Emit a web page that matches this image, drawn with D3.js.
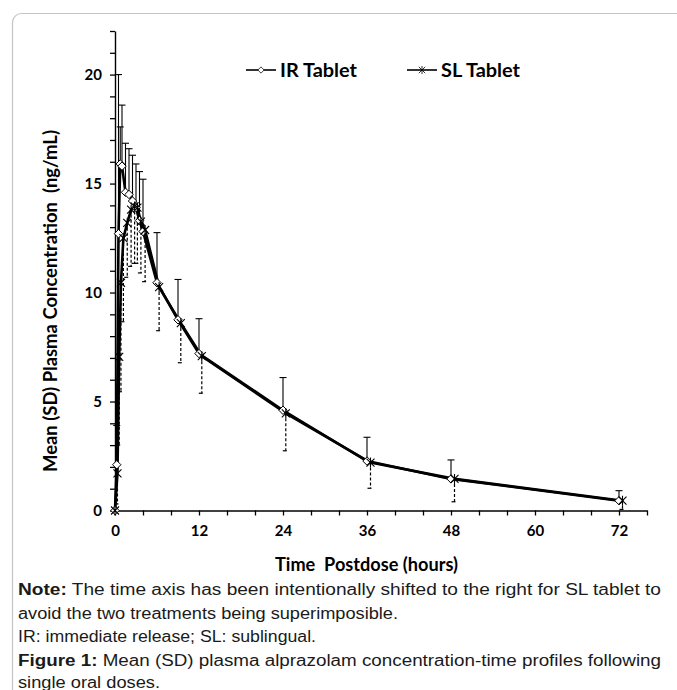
<!DOCTYPE html>
<html><head><meta charset="utf-8">
<script src="https://cdn.jsdelivr.net/npm/d3@7"></script>
<style>
html,body{margin:0;padding:0;background:#fff;}
svg{display:block;}
text{white-space:pre;}
</style></head>
<body>
<svg id="chart" width="677" height="690"></svg>
<script>
// ---- data ----
const irTime  = [0, 0.25, 0.5, 0.75, 1, 1.5, 2, 2.5, 3, 3.5, 4, 6, 9, 12, 24, 36, 48, 72];
const irMean  = [0, 2.1, 12.7, 15.9, 15.8, 14.6, 14.5, 14.2, 13.9, 13.3, 12.8, 10.45, 8.75, 7.2, 4.6, 2.27, 1.45, 0.45];
const irUpper = [0, 3.9, 20.0, 17.6, 18.6, 16.85, 16.6, 16.3, 15.9, 15.55, 15.2, 12.75, 10.6, 8.8, 6.1, 3.36, 2.32, 0.91];

const slTime  = [0, 0.35, 0.6, 0.85, 1.2, 1.75, 2.3, 2.8, 3.2, 3.7, 4.3, 6.3, 9.4, 12.4, 24.4, 36.5, 48.5, 72.5];
const slMean  = [0, 1.7, 7.05, 10.45, 12.5, 13.2, 13.8, 13.95, 13.9, 13.25, 12.87, 10.25, 8.6, 7.08, 4.46, 2.2, 1.45, 0.45];
const slLower = [0, 0.3, 3.0, 5.45, 8.66, 10.7, 11.2, 11.34, 11.34, 10.9, 10.5, 8.25, 6.78, 5.38, 2.74, 1.02, 0.4, 0.05];

const xTicks = [0, 12, 24, 36, 48, 60, 72];
const yTicks = [0, 5, 10, 15, 20];
const seriesNames = ["IR Tablet", "SL Tablet"];
const xTitle = "Time  Postdose (hours)";
const yTitle = "Mean (SD) Plasma Concentration  (ng/mL)";
const captionLines = [
  [["Note:", true], [" The time axis has been intentionally shifted to the right for SL tablet to", false]],
  [["avoid the two treatments being superimposible.", false]],
  [["IR: immediate release; SL: sublingual.", false]],
  [["Figure 1:", true], [" Mean (SD) plasma alprazolam concentration-time profiles following", false]],
  [["single oral doses.", false]]
];

// ---- layout ----
const svg = d3.select("#chart");
const x = d3.scaleLinear().domain([0, 76]).range([115, 647]);
const y = d3.scaleLinear().domain([0, 22]).range([510.5, 31]);

// frame
svg.append("rect").attr("x", 12.5).attr("y", 13.5).attr("width", 700).attr("height", 700)
  .attr("rx", 9).attr("fill", "none").attr("stroke", "#c4c4c4").attr("stroke-width", 1.2);

const chartFont = "Lato, 'Open Sans', sans-serif";

// axes
const yAxis = d3.axisLeft(y).tickValues(d3.range(0, 23)).tickSize(5).tickSizeOuter(0)
  .tickFormat(d => yTicks.includes(d) ? d : "");
const gy = svg.append("g").attr("transform", `translate(${x(0)},0)`).call(yAxis);
gy.select(".domain").attr("stroke", "#000").attr("stroke-width", 1.4);
gy.selectAll(".tick line").attr("stroke", "#000").attr("stroke-width", 1.3);
gy.selectAll(".tick text").attr("font-family", chartFont).attr("font-weight", "bold")
  .attr("font-size", 15).attr("fill", "#000").attr("x", -13).attr("dy", "0.35em");

const xAxis = d3.axisBottom(x).tickValues(d3.range(0, 77, 4)).tickSize(5).tickSizeOuter(0)
  .tickFormat(d => xTicks.includes(d) ? d : "");
const gx = svg.append("g").attr("transform", `translate(0,${y(0)})`).call(xAxis);
gx.select(".domain").attr("stroke", "#000").attr("stroke-width", 1.4);
gx.selectAll(".tick line").attr("stroke", "#000").attr("stroke-width", 1.3);
gx.selectAll(".tick text").attr("font-family", chartFont).attr("font-weight", "bold")
  .attr("font-size", 15).attr("fill", "#000").attr("y", 15).attr("dy", "0.71em");

// axis titles
svg.append("text").attr("x", 366.5).attr("y", 571).attr("text-anchor", "middle")
  .attr("font-family", chartFont).attr("font-weight", "bold").attr("font-size", 18)
  .attr("textLength", 183).attr("lengthAdjust", "spacingAndGlyphs").text(xTitle);
svg.append("text").attr("transform", `translate(57,301) rotate(-90)`).attr("text-anchor", "middle")
  .attr("font-family", chartFont).attr("font-weight", "bold").attr("font-size", 18)
  .attr("textLength", 342).attr("lengthAdjust", "spacingAndGlyphs").text(yTitle);

const ir = irTime.map((t, i) => ({t, m: irMean[i], e: irUpper[i]}));
const sl = slTime.map((t, i) => ({t, m: slMean[i], e: slLower[i]}));

// error bars IR (solid, up)
const eIR = svg.append("g");
ir.filter(d => d.e > d.m).forEach(d => {
  eIR.append("line").attr("x1", x(d.t)).attr("x2", x(d.t)).attr("y1", y(d.m)).attr("y2", y(d.e))
    .attr("stroke", "#000").attr("stroke-width", 1.1);
  eIR.append("line").attr("x1", x(d.t) - 3.5).attr("x2", x(d.t) + 3.5).attr("y1", y(d.e)).attr("y2", y(d.e))
    .attr("stroke", "#000").attr("stroke-width", 1.1);
});
// error bars SL (dashed, down)
const eSL = svg.append("g");
sl.filter(d => d.e < d.m).forEach(d => {
  eSL.append("line").attr("x1", x(d.t)).attr("x2", x(d.t)).attr("y1", y(d.m)).attr("y2", y(d.e))
    .attr("stroke", "#000").attr("stroke-width", 1.2).attr("stroke-dasharray", "3,2");
  eSL.append("line").attr("x1", x(d.t) - 3).attr("x2", x(d.t) + 1).attr("y1", y(d.e)).attr("y2", y(d.e))
    .attr("stroke", "#000").attr("stroke-width", 1.2);
});

// lines
const line = d3.line().x(d => x(d.t)).y(d => y(d.m));
svg.append("path").datum(ir).attr("d", line).attr("fill", "none").attr("stroke", "#000").attr("stroke-width", 2.6)
  .attr("stroke-linejoin", "round");
svg.append("path").datum(sl).attr("d", line).attr("fill", "none").attr("stroke", "#000").attr("stroke-width", 2.6)
  .attr("stroke-linejoin", "round");

// markers
const diamond = "M0,-4.2L4.2,0L0,4.2L-4.2,0Z";
const star = "M-4,-4L4,4M-4,4L4,-4M0,-5L0,5";
svg.append("g").selectAll("path").data(ir).join("path")
  .attr("transform", d => `translate(${x(d.t)},${y(d.m)})`).attr("d", diamond)
  .attr("fill", "#fff").attr("stroke", "#000").attr("stroke-width", 1);
svg.append("g").selectAll("path").data(sl).join("path")
  .attr("transform", d => `translate(${x(d.t)},${y(d.m)})`).attr("d", star)
  .attr("fill", "none").attr("stroke", "#000").attr("stroke-width", 1.1);

// legend
const lg = svg.append("g");
const legendItems = [
  {name: seriesNames[0], x0: 246, w: 77, sym: diamond, fill: "#fff", size: 0.75},
  {name: seriesNames[1], x0: 407, w: 79, sym: star, fill: "none", size: 0.8}
];
legendItems.forEach(it => {
  lg.append("line").attr("x1", it.x0).attr("x2", it.x0 + 30).attr("y1", 70).attr("y2", 70)
    .attr("stroke", "#000").attr("stroke-width", 1.6);
  lg.append("path").attr("d", it.sym).attr("transform", `translate(${it.x0 + 15},70) scale(${it.size})`)
    .attr("fill", it.fill).attr("stroke", "#000").attr("stroke-width", 1);
  lg.append("text").attr("x", it.x0 + 34).attr("y", 76.5).attr("font-family", chartFont)
    .attr("font-weight", "bold").attr("font-size", 18.5)
    .attr("textLength", it.w).attr("lengthAdjust", "spacingAndGlyphs").text(it.name);
});

// caption
const capY = [595, 618.5, 642, 665.5, 688];
const capWidths = [643, 380, 298, 643, 142];
captionLines.forEach((parts, i) => {
  const t = svg.append("text").attr("x", 18).attr("y", capY[i])
    .attr("font-family", "'Liberation Sans', Arial, sans-serif").attr("font-size", 16).attr("fill", "#1a1a1a")
    .attr("textLength", capWidths[i]).attr("lengthAdjust", "spacingAndGlyphs");
  parts.forEach(([s, b]) => t.append("tspan").attr("font-weight", b ? "bold" : "normal").text(s));
});
</script>
</body></html>
